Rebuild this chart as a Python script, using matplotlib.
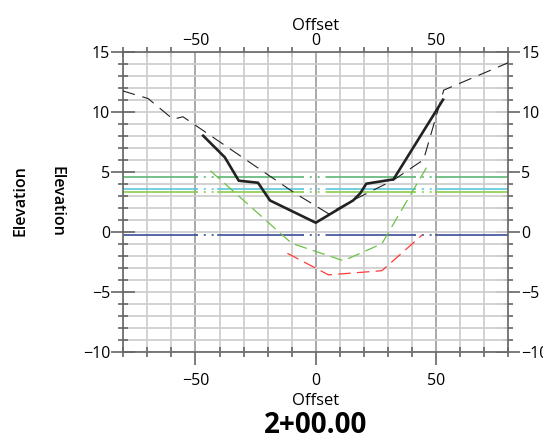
import numpy as np
import matplotlib
matplotlib.use("Agg")
import matplotlib.pyplot as plt
from matplotlib.ticker import MultipleLocator

plt.rcParams['font.family'] = ['Open Sans', 'DejaVu Sans']

# existing ground (thin dashed black)
eg_x = [-80.5, -69.7, -59.3, -55.2, -8.6, 5.3, 14.3, 32.3, 44.8, 53.2, 80.2]
eg_y = [11.75, 11.1, 9.37, 9.58, 3.2, 1.5, 2.5, 4.3, 6.0, 11.8, 14.1]

# design section (thick black)
ds_x = [-46.8, -37.8, -32.0, -24.0, -19.0, 0.0, 15.5, 18.5, 21.0, 32.3, 52.9]
ds_y = [8.0, 6.2, 4.25, 4.08, 2.6, 0.75, 2.6, 3.2, 4.0, 4.36, 11.0]

# green dashed section
gr_x = [-43.8, -10.0, 11.5, 27.5, 46.9]
gr_y = [5.08, -0.97, -2.42, -1.0, 5.65]

# red dashed section
rd_x = [-11.8, 5.3, 27.5, 44.2]
rd_y = [-1.8, -3.6, -3.25, -0.28]

# horizontal levels
lvl_values = [4.53, 3.56, 3.28, -0.3]
lvl_colors = ['#5cb874', '#5bc8dc', '#8ccc4c', '#3a4e9a']
solid_spans = [(-80, -49.6), (-40.7, -5.7), (5.1, 41.0), (49.8, 80)]
dotted_spans = [(-49.6, -40.7), (-5.7, 5.1), (41.0, 49.8)]

fig = plt.figure(figsize=(5.43, 4.36), dpi=100)
ax = fig.add_axes([0.227, 0.1934, 0.709, 0.688])
ax.set_xlim(-80, 80)
ax.set_ylim(-10, 15)

# grid
ax.xaxis.set_major_locator(MultipleLocator(50))
ax.xaxis.set_minor_locator(MultipleLocator(10))
ax.yaxis.set_major_locator(MultipleLocator(5))
ax.yaxis.set_minor_locator(MultipleLocator(1))
ax.grid(which='minor', color='#cfcfcf', lw=1.3, zorder=0)
ax.grid(which='major', axis='x', color='#a8a8a8', lw=1.4, zorder=0)
ax.grid(which='major', axis='y', color='#cfcfcf', lw=1.3, zorder=0)

for v, c in zip(lvl_values, lvl_colors):
    for a, b in solid_spans:
        ax.plot([a, b], [v, v], color=c, lw=1.2, zorder=2)
    for a, b in dotted_spans:
        ax.plot([a, b], [v, v], color=c, lw=1.2, ls=(0, (1.2, 3.5)), zorder=2)

ax.plot(gr_x, gr_y, color='#6cc244', lw=0.9, ls=(0, (10, 5)), zorder=3)
ax.plot(rd_x, rd_y, color='#ff3b3b', lw=0.9, ls=(0, (10, 5)), zorder=3)
ax.plot(eg_x, eg_y, color='#222222', lw=0.8, ls=(0, (12, 7)), zorder=4)
ax.plot(ds_x, ds_y, color='#222222', lw=1.9, zorder=5)

for s in ax.spines.values():
    s.set_color('#666666')
    s.set_linewidth(1.2)

tick_font = 11.5
ax.tick_params(axis='x', which='major', direction='out', length=9, width=1.2,
               color='#666666', labelsize=tick_font, pad=6)
ax.tick_params(axis='x', which='minor', direction='inout', length=7, width=1.2,
               color='#666666')
ax.tick_params(axis='y', which='major', direction='inout', length=17, width=1.2,
               color='#666666', labelsize=tick_font, pad=1)
ax.tick_params(axis='y', which='minor', direction='inout', length=7, width=1.2,
               color='#666666')

top = ax.secondary_xaxis('top')
top.xaxis.set_major_locator(MultipleLocator(50))
top.xaxis.set_minor_locator(MultipleLocator(10))
top.tick_params(which='major', length=0, labelsize=tick_font, pad=2)
top.tick_params(which='minor', direction='inout', length=7, width=1.2, color='#666666')
top.spines['top'].set_visible(False)
top.set_xlabel('Offset', fontsize=12, labelpad=2)

right = ax.secondary_yaxis('right')
right.yaxis.set_major_locator(MultipleLocator(5))
right.yaxis.set_minor_locator(MultipleLocator(1))
right.tick_params(which='major', direction='inout', length=17, width=1.2,
                  color='#666666', labelsize=tick_font, pad=1)
right.tick_params(which='minor', direction='inout', length=7, width=1.2, color='#666666')
right.spines['right'].set_visible(False)

ax.set_xlabel('Offset', fontsize=12, labelpad=3)

fig.text(21 / 543, 1 - 201 / 436, 'Elevation', rotation=90, fontsize=11.5,
         fontweight='semibold', ha='center', va='center')
fig.text(56 / 543, 1 - 201 / 436, 'Elevation', rotation=-90, fontsize=11.5,
         fontweight='semibold', ha='center', va='center')
fig.text(315.7 / 543, 1 - 425 / 436, '2+00.00', fontsize=20, fontweight='bold',
         ha='center', va='center')

fig.savefig('out.png', dpi=100)
